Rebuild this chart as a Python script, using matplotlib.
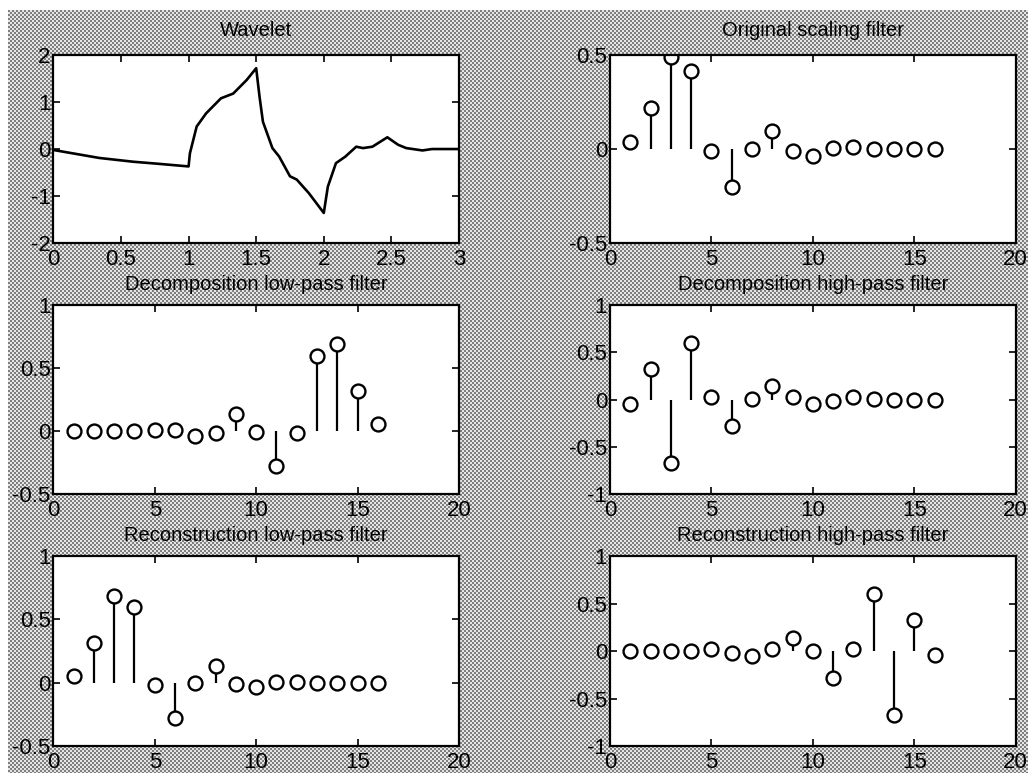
import numpy as np
import matplotlib
matplotlib.use("Agg")
import matplotlib.pyplot as plt
from matplotlib.ticker import FormatStrFormatter

plt.rcParams['font.family'] = ['Liberation Sans', 'DejaVu Sans']
plt.rcParams['axes.unicode_minus'] = False

# wavelet function, sampled along the curve
wav_x = [0.0, 0.34, 0.59, 0.76, 1.0, 1.01, 1.06, 1.13, 1.24, 1.33, 1.43, 1.5,
         1.525, 1.55, 1.62, 1.67, 1.75, 1.8, 1.89, 2.0, 2.03, 2.09, 2.16, 2.24,
         2.29, 2.36, 2.47, 2.55, 2.61, 2.73, 2.8, 3.0]
wav_y = [-0.02, -0.19, -0.27, -0.31, -0.37, -0.09, 0.48, 0.76, 1.08, 1.18, 1.47, 1.72,
         1.11, 0.58, 0.02, -0.16, -0.58, -0.65, -0.94, -1.36, -0.80, -0.30, -0.16, 0.05,
         0.02, 0.05, 0.25, 0.09, 0.02, -0.03, 0.0, 0.0]

n = np.arange(1, 17)
orig_scal = [0.040, 0.217, 0.487, 0.417, -0.013, -0.203, 0.0, 0.096,
             -0.010, -0.035, 0.008, 0.011, 0.0, 0.0, 0.0, 0.0]
dec_lo = [0.0, 0.0, 0.0, 0.0, 0.009, 0.009, -0.036, -0.012,
          0.133, -0.005, -0.276, -0.018, 0.597, 0.687, 0.317, 0.054]
dec_hi = [-0.045, 0.325, -0.675, 0.600, 0.025, -0.283, 0.005, 0.145,
          0.022, -0.050, -0.015, 0.022, 0.005, 0.0, 0.0, 0.0]
rec_lo = [0.054, 0.317, 0.687, 0.597, -0.018, -0.276, -0.005, 0.133,
          -0.012, -0.036, 0.009, 0.009, 0.0, 0.0, 0.0, 0.0]
rec_hi = [0.0, 0.0, 0.0, 0.0, 0.022, -0.022, -0.050, 0.022,
          0.137, 0.0, -0.285, 0.022, 0.597, -0.675, 0.325, -0.045]

fig = plt.figure(figsize=(10.28, 7.73), dpi=100, facecolor='white')

# dithered grey backdrop
H, W = 763, 1020
yy, xx = np.mgrid[0:H, 0:W]
checker = ((xx // 2 + yy // 2) % 2).astype(float)
bg = np.where(checker > 0, 0.9, 0.5)
fig.figimage(np.dstack([bg, bg, bg]), xo=8, yo=0, zorder=-5, origin='upper')


def style_axes(ax):
    ax.set_facecolor('white')
    for s in ax.spines.values():
        s.set_linewidth(1.6)
    ax.tick_params(direction='in', length=5, width=1.2, top=True, right=True,
                   labelsize=16, pad=2)
    ax.tick_params(axis='x', pad=4)
    ax.xaxis.set_major_formatter(FormatStrFormatter('%g'))
    ax.yaxis.set_major_formatter(FormatStrFormatter('%g'))


def stem_plot(ax, y, title, ylim, yticks, tpad=11):
    markerline, stemlines, baseline = ax.stem(n, y, linefmt='k-', markerfmt='ko', basefmt=' ')
    markerline.set_markerfacecolor('white')
    markerline.set_markeredgecolor('black')
    markerline.set_markersize(10)
    markerline.set_markeredgewidth(1.7)
    stemlines.set_linewidth(1.6)
    ax.set_xlim(0, 20)
    ax.set_xticks([0, 5, 10, 15, 20])
    ax.set_ylim(*ylim)
    ax.set_yticks(yticks)
    ax.set_title(title, fontsize=14.5, pad=tpad)
    style_axes(ax)


left_l, left_r, w = 0.0519, 0.5934, 0.3946
rows = [(0.6856, 0.2432), (0.3609, 0.2445), (0.0349, 0.2458)]

ax1 = fig.add_axes([left_l, rows[0][0], w, rows[0][1]])
ax1.plot(wav_x, wav_y, color='black', linewidth=1.9)
ax1.set_xlim(0, 3)
ax1.set_ylim(-2, 2)
ax1.set_xticks([0, 0.5, 1, 1.5, 2, 2.5, 3])
ax1.set_yticks([-2, -1, 0, 1, 2])
ax1.set_title('Wavelet', fontsize=14.5, pad=14)
style_axes(ax1)

ax2 = fig.add_axes([left_r, rows[0][0], w, rows[0][1]])
stem_plot(ax2, orig_scal, 'Original scaling filter', (-0.5, 0.5), [-0.5, 0, 0.5], tpad=14)

ax3 = fig.add_axes([left_l, rows[1][0], w, rows[1][1]])
stem_plot(ax3, dec_lo, 'Decomposition low-pass filter', (-0.5, 1), [-0.5, 0, 0.5, 1])

ax4 = fig.add_axes([left_r, rows[1][0], w, rows[1][1]])
stem_plot(ax4, dec_hi, 'Decomposition high-pass filter', (-1, 1), [-1, -0.5, 0, 0.5, 1])

ax5 = fig.add_axes([left_l, rows[2][0], w, rows[2][1]])
stem_plot(ax5, rec_lo, 'Reconstruction low-pass filter', (-0.5, 1), [-0.5, 0, 0.5, 1])

ax6 = fig.add_axes([left_r, rows[2][0], w, rows[2][1]])
stem_plot(ax6, rec_hi, 'Reconstruction high-pass filter', (-1, 1), [-1, -0.5, 0, 0.5, 1])

fig.savefig('out.png', dpi=100, facecolor='white')
